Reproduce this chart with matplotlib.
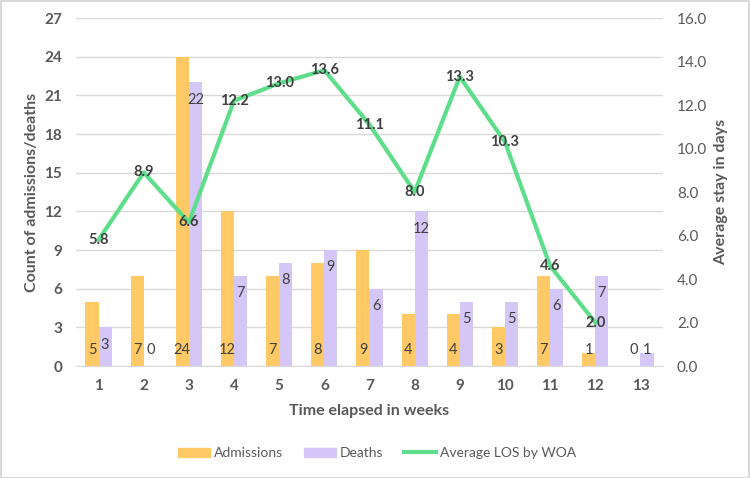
import matplotlib.pyplot as plt
from matplotlib.patches import Rectangle
from matplotlib.lines import Line2D
from matplotlib.patches import Patch

plt.rcParams["font.family"] = ["Lato", "DejaVu Sans"]

weeks = ["1", "2", "3", "4", "5", "6", "7", "8", "9", "10", "11", "12", "13"]
admissions = [5, 7, 24, 12, 7, 8, 9, 4, 4, 3, 7, 1, 0]
deaths = [3, 0, 22, 7, 8, 9, 6, 12, 5, 5, 6, 7, 1]
avg_los = [5.8, 8.9, 6.6, 12.2, 13.0, 13.6, 11.1, 8.0, 13.3, 10.3, 4.6, 2.0]

COL_ADM = "#FFC966"
COL_DEA = "#D5C6F8"
COL_LOS = "#5EDE8A"
TEXT = "#595959"
GRID = "#D9D9D9"

fig = plt.figure(figsize=(7.5, 4.78), dpi=100)
ax = fig.add_axes([0.1013, 0.2343, 0.7827, 0.728])
ax2 = ax.twinx()

x = list(range(len(weeks)))
w = 0.29
ax.bar([i - w / 2 for i in x], admissions, width=w, color=COL_ADM, zorder=2)
ax.bar([i + w / 2 for i in x], deaths, width=w, color=COL_DEA, zorder=2)

# bar labels: admissions at the base, deaths just inside the top
for i, v in enumerate(admissions):
    ax.text(i - w / 2, 1.25, str(v), ha="center", va="center", fontsize=10.5,
            color="#404040", zorder=3)
for i, v in enumerate(deaths):
    ax.text(i + w / 2, max(v - 1.35, 1.25), str(v), ha="center", va="center",
            fontsize=10.5, color="#404040", zorder=3)

ax.set_xlim(-0.5, len(weeks) - 0.5)
ax.set_ylim(0, 27)
ax.set_yticks(range(0, 28, 3))
ax.set_xticks(x)
ax.set_xticklabels(weeks)
ax.grid(axis="y", color=GRID, linewidth=1, zorder=0)
ax.set_axisbelow(True)

ax2.plot(x[:len(avg_los)], avg_los, color=COL_LOS, linewidth=3, zorder=4)
for i, v in enumerate(avg_los):
    ax2.text(i, v, f"{v:.1f}", ha="center", va="center", fontsize=10.5,
             fontweight="bold", color="#404040", zorder=5)
ax2.set_ylim(0, 16)
ax2.set_yticks(range(0, 17, 2))
ax2.set_yticklabels([f"{t:.1f}" for t in range(0, 17, 2)])

for a in (ax, ax2):
    for s in a.spines.values():
        s.set_visible(False)
    a.tick_params(length=0)
ax.spines["bottom"].set_visible(True)
ax.spines["bottom"].set_color(GRID)

for lab in ax.get_yticklabels() + ax.get_xticklabels():
    lab.set_fontweight("bold")
    lab.set_fontsize(11)
    lab.set_color(TEXT)
for lab in ax2.get_yticklabels():
    lab.set_fontsize(11)
    lab.set_color(TEXT)
ax.tick_params(axis="y", pad=10)
ax.tick_params(axis="x", pad=9)
ax2.tick_params(axis="y", pad=10)

ax.set_xlabel("Time elapsed in weeks", fontsize=11.5, fontweight="bold", color=TEXT, labelpad=8)
ax.set_ylabel("Count of admissions/deaths", fontsize=11.5, fontweight="bold", color=TEXT, labelpad=4)
ax2.set_ylabel("Average stay in days", fontsize=11.5, fontweight="bold", color=TEXT, labelpad=5)

handles = [Patch(color=COL_ADM, label="Admissions"),
           Patch(color=COL_DEA, label="Deaths"),
           Line2D([], [], color=COL_LOS, linewidth=3, label="Average LOS by WOA")]
leg = fig.legend(handles=handles, loc="center", bbox_to_anchor=(0.503, 0.052), ncol=3,
                 frameon=False, fontsize=10, handlelength=2.3, handleheight=0.6,
                 columnspacing=1.5, handletextpad=0.3)
for t in leg.get_texts():
    t.set_color(TEXT)

fig.patches.append(Rectangle((0.001, 0.001), 0.997, 0.997, transform=fig.transFigure,
                             fill=False, edgecolor="#D9D9D9", linewidth=1.5))

fig.savefig("out.png", dpi=100)
